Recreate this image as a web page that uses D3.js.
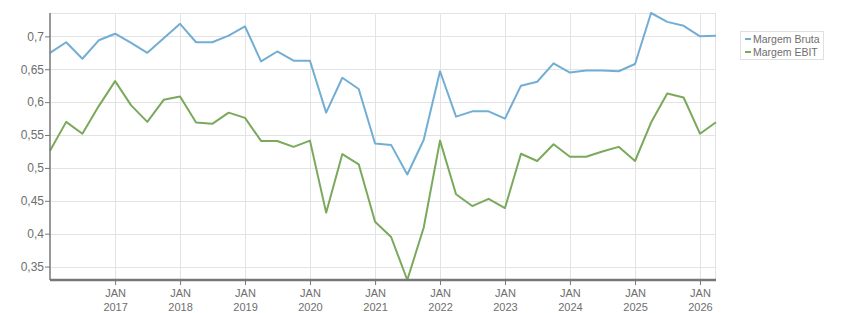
<!DOCTYPE html>
<html>
<head>
<meta charset="utf-8">
<script src="https://cdn.jsdelivr.net/npm/d3@7"></script>
<style>
  body { margin: 0; background: #fff; }
  svg text { font-family: "Liberation Sans", Arial, sans-serif; font-size: 11px; fill: #6e6e6e; }
  .grid line { stroke: #e3e3e3; stroke-width: 1; }
</style>
</head>
<body>
<div id="chart"></div>
<script>
// quarterly dates, Jan 2016 .. Apr 2026
const startYear = 2016;
const quarterCount = 42;
const seriesNames = ['Margem Bruta', 'Margem EBIT'];
const seriesColors = ['#72aed4', '#7aa95c'];

const margemBruta = [
    0.675, 0.691, 0.666, 0.694,
    0.704, 0.690, 0.675, 0.697,
    0.719, 0.691, 0.691, 0.701,
    0.715, 0.662, 0.677, 0.663,
    0.663, 0.584, 0.637, 0.620,
    0.537, 0.535, 0.490, 0.5425,
    0.647, 0.578, 0.586, 0.586,
    0.575, 0.625, 0.631, 0.659,
    0.645, 0.648, 0.648, 0.647,
    0.658, 0.7355, 0.722, 0.716,
    0.700, 0.701
];
const margemEbit = [
    0.526, 0.570, 0.552, 0.594,
    0.632, 0.595, 0.570, 0.6035,
    0.6085, 0.569, 0.567, 0.584,
    0.576, 0.541, 0.541, 0.532,
    0.5415, 0.432, 0.521, 0.5055,
    0.418, 0.395, 0.3296, 0.409,
    0.5415, 0.460, 0.442, 0.453,
    0.439, 0.5215, 0.5105, 0.536,
    0.517, 0.517, 0.525, 0.532,
    0.5105, 0.569, 0.613, 0.607,
    0.552, 0.5695
];
const yTicks = [0.35, 0.4, 0.45, 0.5, 0.55, 0.6, 0.65, 0.7];
const xTickYears = [2017, 2018, 2019, 2020, 2021, 2022, 2023, 2024, 2025, 2026];

const width = 851, height = 313;
const margin = {top: 13, right: 135, bottom: 33, left: 50};
const innerW = width - margin.left - margin.right;
const innerH = height - margin.top - margin.bottom;

const dates = d3.range(quarterCount).map(i => new Date(startYear + Math.floor(i / 4), (i % 4) * 3, 1));
const series = [margemBruta, margemEbit].map((vals, k) => ({
    name: seriesNames[k],
    color: seriesColors[k],
    values: vals.map((v, i) => ({date: dates[i], value: v}))
}));

const x = d3.scaleTime()
    .domain(d3.extent(dates))
    .range([0, innerW]);
const allVals = margemBruta.concat(margemEbit);
const y = d3.scaleLinear()
    .domain(d3.extent(allVals))
    .range([innerH, 0]);

const fmt = v => d3.format('.2~f')(v).replace('.', ',');

const svg = d3.select('#chart').append('svg')
    .attr('width', width)
    .attr('height', height);

const g = svg.append('g')
    .attr('transform', `translate(${margin.left},${margin.top})`);

// gridlines
g.append('g').attr('class', 'grid')
    .selectAll('line.h')
    .data(yTicks)
    .join('line')
    .attr('x1', 0).attr('x2', innerW)
    .attr('y1', d => Math.round(y(d)) + 0.5)
    .attr('y2', d => Math.round(y(d)) + 0.5);

g.append('g').attr('class', 'grid')
    .selectAll('line.v')
    .data(xTickYears)
    .join('line')
    .attr('y1', 0).attr('y2', innerH)
    .attr('x1', d => Math.round(x(new Date(d, 0, 1))) + 0.5)
    .attr('x2', d => Math.round(x(new Date(d, 0, 1))) + 0.5);

// top and right frame lines
g.append('line').attr('x1', 0).attr('x2', innerW).attr('y1', 0.5).attr('y2', 0.5)
    .attr('stroke', '#e3e3e3');
g.append('line').attr('x1', innerW - 0.5).attr('x2', innerW - 0.5).attr('y1', 0).attr('y2', innerH)
    .attr('stroke', '#e3e3e3');

// lines
const line = d3.line()
    .x(d => x(d.date))
    .y(d => y(d.value));

g.selectAll('.series')
    .data(series)
    .join('path')
    .attr('class', 'series')
    .attr('fill', 'none')
    .attr('stroke', d => d.color)
    .attr('stroke-width', 2)
    .attr('stroke-linejoin', 'round')
    .attr('d', d => line(d.values));

// y axis
const yAxis = d3.axisLeft(y)
    .tickValues(yTicks)
    .tickSize(5)
    .tickPadding(1)
    .tickFormat(fmt);
const yAxisG = g.append('g').call(yAxis);
yAxisG.select('.domain').remove();
yAxisG.selectAll('.tick line').attr('stroke', '#777');
yAxisG.selectAll('.tick text').style('font-size', '12px');
yAxisG.append('line')
    .attr('x1', 0).attr('x2', 0).attr('y1', 0).attr('y2', innerH)
    .attr('stroke', '#777').attr('stroke-width', 1.5);

// x axis
const xAxis = d3.axisBottom(x)
    .tickValues(xTickYears.map(yr => new Date(yr, 0, 1)))
    .tickSize(5)
    .tickFormat('');
const xAxisG = g.append('g')
    .attr('transform', `translate(0,${innerH})`)
    .call(xAxis);
xAxisG.select('.domain').remove();
xAxisG.selectAll('.tick line').attr('stroke', '#777');
xAxisG.selectAll('.tick').each(function (d) {
    const t = d3.select(this).append('text')
        .attr('text-anchor', 'middle')
        .attr('fill', '#6e6e6e');
    t.append('tspan').attr('x', 0).attr('y', 17).text('JAN');
    t.append('tspan').attr('x', 0).attr('y', 31).text(d.getFullYear());
});
xAxisG.append('line')
    .attr('x1', 0).attr('x2', innerW).attr('y1', 0).attr('y2', 0)
    .attr('stroke', '#777').attr('stroke-width', 2.5);

// legend
const legend = svg.append('g')
    .attr('transform', 'translate(740,31)');
legend.append('rect')
    .attr('x', 0.5).attr('y', 0.5)
    .attr('width', 83).attr('height', 28)
    .attr('fill', '#fff')
    .attr('stroke', '#e0e0e0');
const item = legend.selectAll('.legend-item')
    .data(series)
    .join('g')
    .attr('class', 'legend-item')
    .attr('transform', (d, i) => `translate(5,${8 + i * 13})`);
item.append('line')
    .attr('x1', 0).attr('x2', 6).attr('y1', 0).attr('y2', 0)
    .attr('stroke', d => d.color)
    .attr('stroke-width', 2);
item.append('text')
    .attr('x', 8).attr('y', 4)
    .style('font-size', '10.5px')
    .text(d => d.name);
</script>
</body>
</html>
